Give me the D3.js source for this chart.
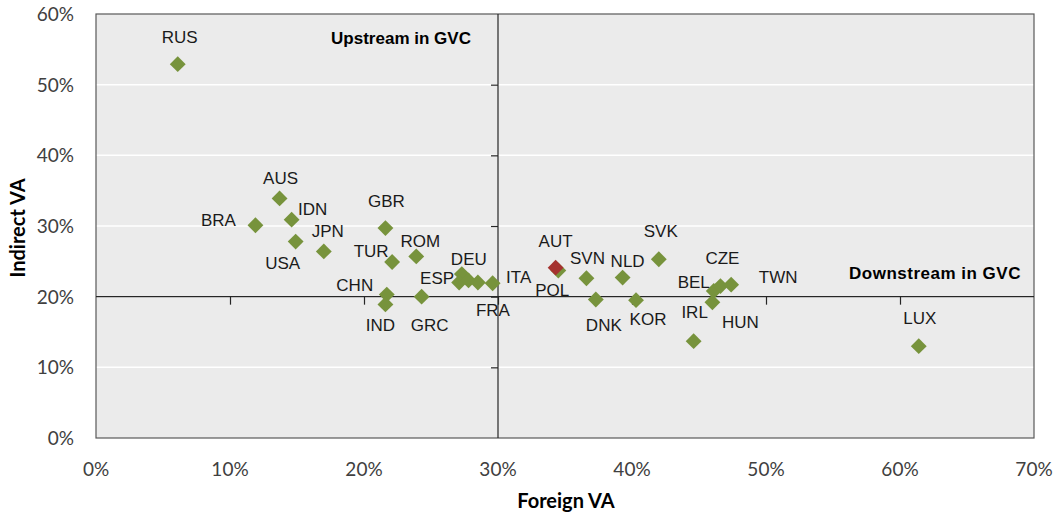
<!DOCTYPE html>
<html>
<head>
<meta charset="utf-8">
<script src="https://cdn.jsdelivr.net/npm/d3@7/dist/d3.min.js"></script>
<style>
	body { margin: 0; background: #fff; }
	svg { display: block; }
</style>
</head>
<body>
<svg id="chart" width="1056" height="515"></svg>
<script>
// pays, part de VA étrangère (x) et part de VA indirecte (y), en %
var countries = ["RUS", "AUS", "IDN", "BRA", "USA", "JPN", "GBR", "TUR", "ROM", "CHN", "IND", "GRC",
	"DEU", "ESP", "", "FRA", "ITA", "POL", "SVN", "NLD", "SVK", "DNK", "KOR", "IRL", "BEL", "CZE", "TWN", "HUN", "LUX", "AUT"];
var foreignVA = [6.1, 13.7, 14.6, 11.9, 14.9, 17.0, 21.6, 22.1, 23.9, 21.7, 21.6, 24.3,
	27.3, 27.1, 27.8, 28.5, 29.6, 34.5, 36.6, 39.3, 42.0, 37.3, 40.3, 44.6, 46.1, 46.6, 47.4, 46.0, 61.4, 34.3];
var indirectVA = [52.9, 33.9, 30.9, 30.1, 27.8, 26.4, 29.7, 24.9, 25.7, 20.3, 18.9, 20.0,
	23.2, 22.0, 22.3, 22.0, 21.9, 23.7, 22.6, 22.7, 25.3, 19.6, 19.5, 13.7, 20.8, 21.5, 21.7, 19.2, 13.0, 24.1];
var highlighted = "AUT";
var xTicks = [0, 10, 20, 30, 40, 50, 60, 70];
var yTicks = [0, 10, 20, 30, 40, 50, 60];

// placement des étiquettes (décalage en px par rapport au point)
var labelOffset = {
	RUS: [2, -27], AUS: [1, -21], IDN: [21, -11], BRA: [-37, -5], USA: [-13, 21], JPN: [4, -21],
	GBR: [1, -27], TUR: [-21, -11], ROM: [4, -16], CHN: [-32, -10], IND: [-5, 20], GRC: [8, 28],
	DEU: [7, -15], ESP: [-22, -5], FRA: [15, 27], ITA: [26, -6], AUT: [0, -27], POL: [-6, 19],
	SVN: [1, -20], NLD: [5, -17], SVK: [2, -28], DNK: [8, 25], KOR: [12, 19], IRL: [1, -29],
	BEL: [-20, -9], CZE: [2, -28], TWN: [47, -8], HUN: [28, 20], LUX: [1, -28]
};

var data = countries.map(function(c, i){
	return {name: c, x: foreignVA[i], y: indirectVA[i]};
});

var svg = d3.select("#chart");
var margin = {top: 14, right: 22, bottom: 77, left: 96},
	width = 1056 - margin.left - margin.right,
	height = 515 - margin.top - margin.bottom;

var xScale = d3.scaleLinear().domain([0, 70]).range([margin.left, margin.left + width]);
var yScale = d3.scaleLinear().domain([0, 60]).range([margin.top + height, margin.top]);

// fond de la zone de tracé
svg.append("rect")
	.attr("x", xScale(0)).attr("y", yScale(60))
	.attr("width", xScale(70) - xScale(0)).attr("height", yScale(0) - yScale(60))
	.style("fill", "#ebebeb");

// lignes de quadrillage blanches
svg.append("g").selectAll("line")
	.data(yTicks.filter(function(d){ return d > 0 && d < 60; }))
	.enter().append("line")
	.attr("x1", xScale(0)).attr("x2", xScale(70))
	.attr("y1", function(d){ return yScale(d); })
	.attr("y2", function(d){ return yScale(d); })
	.style("stroke", "#ffffff").style("stroke-width", 1.5);

// cadre
svg.append("rect")
	.attr("x", xScale(0)).attr("y", yScale(60))
	.attr("width", xScale(70) - xScale(0)).attr("height", yScale(0) - yScale(60))
	.style("fill", "none").style("stroke", "#595959").style("stroke-width", 1.2);

// axe horizontal qui croise en y = 20%
svg.append("g")
	.attr("transform", `translate(0, ${yScale(20)})`)
	.call(d3.axisBottom(xScale).tickValues(xTicks.filter(function(d){ return d > 0 && d < 70; }))
		.tickSize(8).tickFormat(""))
	.call(g => g.select(".domain").attr("d", `M${xScale(0)},0H${xScale(70)}`))
	.call(g => g.selectAll("line, path").style("stroke", "#262626").style("stroke-width", 1.2));

// axe vertical qui croise en x = 30%
svg.append("g")
	.attr("transform", `translate(${xScale(30)}, 0)`)
	.call(d3.axisLeft(yScale).tickValues(yTicks.filter(function(d){ return d > 0 && d < 60; }))
		.tickSize(7).tickFormat(""))
	.call(g => g.select(".domain").attr("d", `M0,${yScale(0)}V${yScale(60)}`))
	.call(g => g.selectAll("line, path").style("stroke", "#262626").style("stroke-width", 1.2));

// étiquettes des axes (en dehors du cadre)
svg.append("g").selectAll("text")
	.data(xTicks).enter().append("text")
	.attr("x", function(d){ return xScale(d); })
	.attr("y", yScale(0) + 38)
	.style("text-anchor", "middle")
	.style("font-family", "Lato, sans-serif").style("font-size", "19px").style("fill", "#404040")
	.text(function(d){ return d + "%"; });

svg.append("g").selectAll("text")
	.data(yTicks).enter().append("text")
	.attr("x", margin.left - 22)
	.attr("y", function(d){ return yScale(d) + 7; })
	.style("text-anchor", "end")
	.style("font-family", "Lato, sans-serif").style("font-size", "19px").style("fill", "#404040")
	.text(function(d){ return d + "%"; });

// titres des axes
svg.append("text")
	.attr("x", 566).attr("y", 508)
	.style("text-anchor", "middle")
	.style("font-family", "Lato, sans-serif").style("font-size", "20px").style("font-weight", "bold")
	.text("Foreign VA");

svg.append("text")
	.attr("transform", "translate(25, 228) rotate(-90)")
	.style("text-anchor", "middle")
	.style("font-family", "Lato, sans-serif").style("font-size", "20px").style("font-weight", "bold")
	.text("Indirect VA");

// annotations des quadrants
svg.append("text")
	.attr("x", 401).attr("y", 44)
	.style("text-anchor", "middle")
	.style("font-family", "Liberation Sans, Arial, sans-serif").style("font-size", "17px").style("font-weight", "bold")
	.text("Upstream in GVC");

svg.append("text")
	.attr("x", 935).attr("y", 279)
	.style("text-anchor", "middle")
	.style("font-family", "Liberation Sans, Arial, sans-serif").style("font-size", "17px").style("font-weight", "bold")
	.style("letter-spacing", "0.5px")
	.text("Downstream in GVC");

// points en losange : les verts d'abord, le pays mis en évidence par-dessus
var sorted = data.filter(function(d){ return d.name != highlighted; })
	.concat(data.filter(function(d){ return d.name == highlighted; }));

svg.append("g").selectAll("path")
	.data(sorted).enter().append("path")
	.attr("transform", function(d){ return `translate(${xScale(d.x)}, ${yScale(d.y)}) rotate(45)`; })
	.attr("d", "M-5.6,-5.6H5.6V5.6H-5.6Z")
	.style("fill", function(d){ return d.name == highlighted ? "#a5322f" : "#77933c"; });

// étiquettes des pays
svg.append("g").selectAll("text")
	.data(data.filter(function(d){ return d.name != ""; })).enter().append("text")
	.attr("x", function(d){ return xScale(d.x) + labelOffset[d.name][0]; })
	.attr("y", function(d){ return yScale(d.y) + labelOffset[d.name][1]; })
	.attr("dy", "0.36em")
	.style("text-anchor", "middle")
	.style("font-family", "Liberation Sans, Arial, sans-serif").style("font-size", "17px").style("fill", "#1a1a1a")
	.text(function(d){ return d.name; });
</script>
</body>
</html>
